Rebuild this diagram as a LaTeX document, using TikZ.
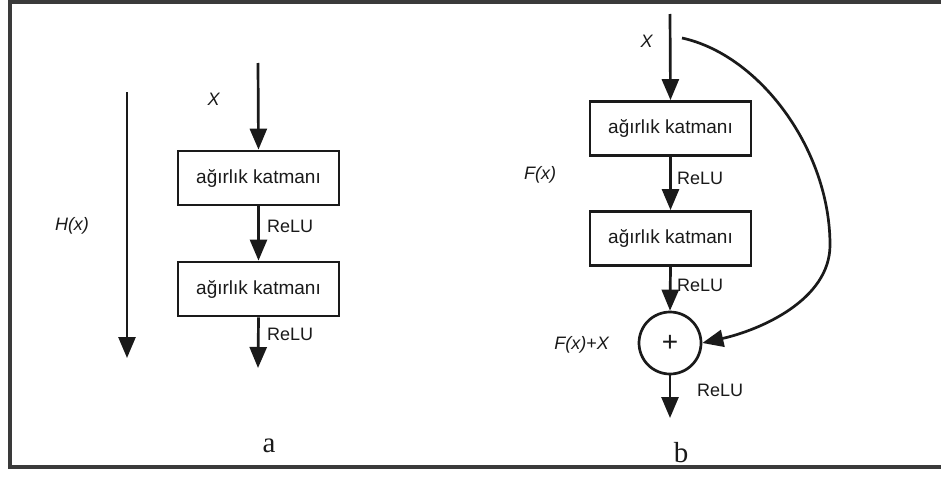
\documentclass[tikz,border=0pt]{standalone}
\usepackage{fontspec}
\setmainfont{Liberation Serif}
\setsansfont{Liberation Sans}
\usetikzlibrary{arrows.meta}
\definecolor{ink}{HTML}{1A1A1A}
\definecolor{framegray}{HTML}{3A3A3A}
\begin{document}
\begin{tikzpicture}[x=1pt,y=-1pt,
  flow/.style={draw=ink,line width=2.7pt,-{Triangle[width=17pt,length=21pt]}},
  layer/.style={draw=ink,line width=2.8pt,minimum width=161pt,minimum height=54pt,
    inner sep=0pt,font=\sffamily\fontsize{19}{21}\selectfont,text=ink},
  lbl/.style={font=\sffamily\fontsize{18}{20}\selectfont,text=ink,inner sep=0pt},
  ilbl/.style={font=\sffamily\itshape\fontsize{18}{20}\selectfont,text=ink,inner sep=0pt},
  partlabel/.style={font=\rmfamily\fontsize{29}{32}\selectfont,text=ink,inner sep=0pt}]
\useasboundingbox (0,0) rectangle (941,479);
\fill[white] (0,0) rectangle (941,479);
% outer frame (open on the right)
\draw[framegray,line width=3.5pt] (945,2) -- (10,2) -- (10,467) -- (945,467);

% ---- plain block (a) ----
\coordinate (hTop) at (127,92);
\coordinate (hBot) at (127,358);
\draw[flow] (hTop) -- (hBot);
\node[ilbl] (hLbl) at (72,226) {H(x)};

\coordinate (aIn) at (258,63);
\node[ilbl] (aX) at (213.5,99) {X};
\node[layer] (aL1) at (258.5,178) {ağırlık katmanı};
\node[layer] (aL2) at (258.5,289) {ağırlık katmanı};
\coordinate (aOut) at (258,368);
\draw[flow] (aIn) -- (aL1.north);
\draw[flow] (aL1.south) -- (aL2.north);
\draw[flow] (aL2.south) -- (aOut);
\node[lbl,anchor=west] (aR1) at (267,226) {ReLU};
\node[lbl,anchor=west] (aR2) at (267,334) {ReLU};
\node[partlabel,anchor=base] (capA) at (269,452) {a};

% ---- residual block (b) ----
\coordinate (bIn) at (670,14);
\node[ilbl] (bX) at (646.5,41) {X};
\node[layer] (bL1) at (670.5,128.5) {ağırlık katmanı};
\node[layer] (bL2) at (670.5,238.5) {ağırlık katmanı};
\node[draw=ink,line width=2.7pt,circle,minimum size=62pt,inner sep=0pt,
      font=\sffamily\fontsize{28}{30}\selectfont,text=ink] (sum) at (670,343) {+};
\coordinate (bOut) at (670,418);
\draw[flow] (bIn) -- (bL1.north);
\draw[flow] (bL1.south) -- (bL2.north);
\draw[flow] (bL2.south) -- (sum.north);
\draw[flow] (sum.south) -- (bOut);
\node[lbl,anchor=west] (bR1) at (677,178) {ReLU};
\node[lbl,anchor=west] (bR2) at (677,285) {ReLU};
\node[lbl,anchor=west] (bR3) at (697,390) {ReLU};
\node[ilbl] (fLbl) at (540,175) {F(x)};
\node[ilbl] (fxLbl) at (581.5,345) {F(x)+X};

% identity shortcut
\coordinate (skip) at (682,38);
\draw[flow]
  (skip) .. controls (760,55) and (830,150) .. (830,245)
         .. controls (830,300) and (760,330) .. (sum.east);
\node[partlabel,anchor=base] (capB) at (681,462) {b};
\end{tikzpicture}
\end{document}
